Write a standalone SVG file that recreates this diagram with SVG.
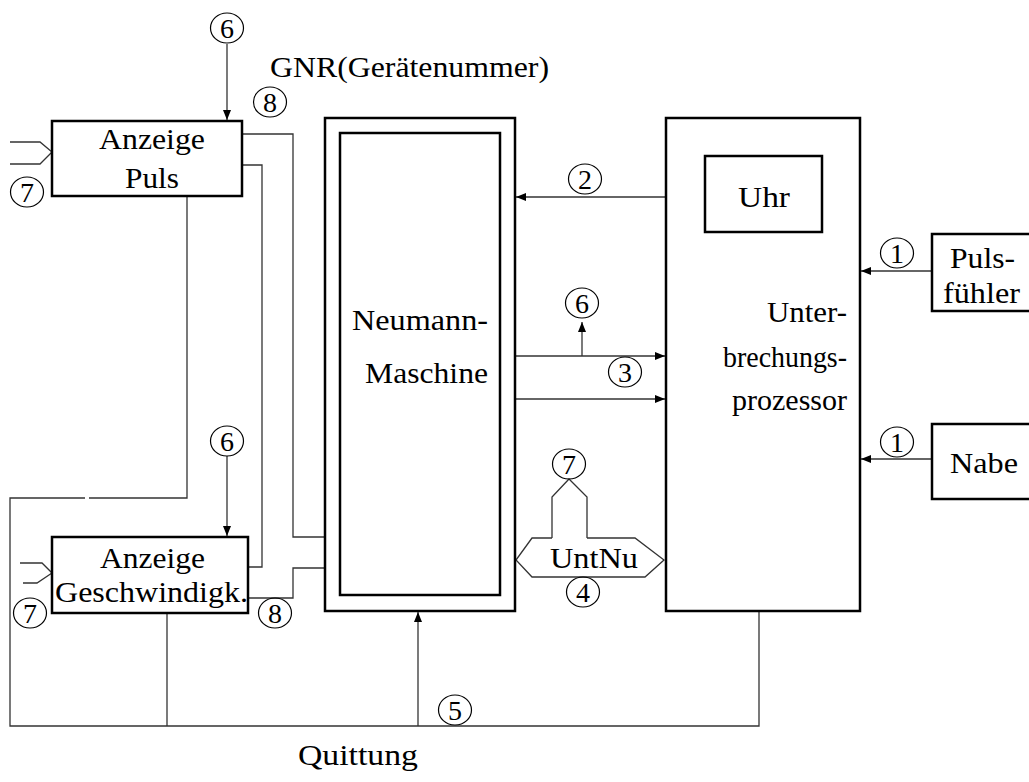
<svg xmlns="http://www.w3.org/2000/svg" width="1029" height="782" viewBox="0 0 1029 782">
<style>
  .box { fill: none; stroke: #000; stroke-width: 2.5; }
  .ln { fill: none; stroke: #333; stroke-width: 1.3; }
  text { font-family: 'Liberation Serif', 'Times New Roman', 'DejaVu Serif', serif; font-weight: normal; fill: #000; }
  .t { font-size: 29px; }
  .n { font-size: 28px; text-anchor: middle; }
  .c { fill: none; stroke: #000; stroke-width: 1.2; }
</style>
<defs>
  <marker id="ah" viewBox="0 0 10 8" refX="10" refY="4" markerWidth="10" markerHeight="8" markerUnits="userSpaceOnUse" orient="auto">
    <path d="M0,0 L10,4 L0,8 Z" fill="#000"/>
  </marker>
</defs>
<rect width="1029" height="782" fill="#fff"/>

<g id="connectors">
  <line class="ln" x1="227" y1="44" x2="227" y2="120" marker-end="url(#ah)"/>
  <line class="ln" x1="227" y1="456" x2="227" y2="536" marker-end="url(#ah)"/>
  <polyline class="ln" points="10,142 40,142 52,152 40,164 10,164"/>
  <polyline class="ln" points="20,563 42,563 52,573 37,583 23,583"/>
  <polyline class="ln" points="243,134 293,134 293,537 325,537"/>
  <polyline class="ln" points="243,165 262,165 262,567 249,567"/>
  <polyline class="ln" points="249,598 293,598 293,568 325,568"/>
  <polyline class="ln" points="187,197 187,498 89,498"/>
  <polyline class="ln" points="85,498 10,498 10,726 759,726 759,611"/>
  <line class="ln" x1="167" y1="613" x2="167" y2="726"/>
  <line class="ln" x1="418" y1="726" x2="418" y2="612" marker-end="url(#ah)"/>
  <line class="ln" x1="666" y1="197" x2="516" y2="197" marker-end="url(#ah)"/>
  <line class="ln" x1="515" y1="356" x2="665" y2="356" marker-end="url(#ah)"/>
  <line class="ln" x1="515" y1="399" x2="665" y2="399" marker-end="url(#ah)"/>
  <line class="ln" x1="582" y1="356" x2="582" y2="322" marker-end="url(#ah)"/>
  <line class="ln" x1="932" y1="271" x2="861" y2="271" marker-end="url(#ah)"/>
  <line class="ln" x1="932" y1="459" x2="861" y2="459" marker-end="url(#ah)"/>
  <polyline class="ln" points="552,538 532,538 516,560 532,577 645,577 664,560 635,538 587,538"/>
  <polyline class="ln" points="552,538 552,497 569,479 587,497 587,538"/>
</g>

<g id="anzeige-puls">
  <rect class="box" x="52" y="121" width="190" height="75"/>
  <text class="t" x="99" y="149" textLength="106" lengthAdjust="spacingAndGlyphs">Anzeige</text>
  <text class="t" x="125" y="188" textLength="54" lengthAdjust="spacingAndGlyphs">Puls</text>
</g>

<g id="anzeige-geschw">
  <rect class="box" x="52" y="537" width="196" height="76"/>
  <text class="t" x="100" y="568" textLength="105" lengthAdjust="spacingAndGlyphs">Anzeige</text>
  <text class="t" x="55" y="602" textLength="193" lengthAdjust="spacingAndGlyphs">Geschwindigk.</text>
</g>

<g id="neumann">
  <rect class="box" x="325" y="118" width="190" height="493"/>
  <rect class="box" x="340" y="133" width="160" height="462"/>
  <text class="t" x="352" y="330" textLength="136" lengthAdjust="spacingAndGlyphs">Neumann-</text>
  <text class="t" x="365" y="383" textLength="123" lengthAdjust="spacingAndGlyphs">Maschine</text>
</g>

<g id="unterbrechung">
  <rect class="box" x="666" y="118" width="194" height="493"/>
  <text class="t" x="767" y="322" textLength="80" lengthAdjust="spacingAndGlyphs">Unter-</text>
  <text class="t" x="723" y="367" textLength="124" lengthAdjust="spacingAndGlyphs">brechungs-</text>
  <text class="t" x="732" y="410" textLength="115" lengthAdjust="spacingAndGlyphs">prozessor</text>
</g>

<g id="uhr">
  <rect class="box" x="705" y="156" width="117" height="76"/>
  <text class="t" x="738" y="207" textLength="52" lengthAdjust="spacingAndGlyphs">Uhr</text>
</g>

<g id="pulsfuehler">
  <rect class="box" x="932" y="234" width="110" height="77"/>
  <text class="t" x="950" y="268" textLength="65" lengthAdjust="spacingAndGlyphs">Puls-</text>
  <text class="t" x="943" y="303" textLength="77" lengthAdjust="spacingAndGlyphs">fühler</text>
</g>

<g id="nabe">
  <rect class="box" x="932" y="424" width="110" height="75"/>
  <text class="t" x="950" y="473" textLength="68" lengthAdjust="spacingAndGlyphs">Nabe</text>
</g>

<g id="untnu">
  <text class="t" x="550" y="568" textLength="88" lengthAdjust="spacingAndGlyphs">UntNu</text>
</g>

<g id="labels">
  <text class="t" x="270" y="77" textLength="279" lengthAdjust="spacingAndGlyphs">GNR(Gerätenummer)</text>
  <text class="t" x="298" y="765" textLength="120" lengthAdjust="spacingAndGlyphs">Quittung</text>
</g>

<g id="circled-numbers">
  <ellipse class="c" cx="227" cy="28" rx="16.5" ry="15"/><text class="n" x="227" y="37.5">6</text>
  <ellipse class="c" cx="270" cy="102" rx="16.5" ry="15"/><text class="n" x="270" y="111.5">8</text>
  <ellipse class="c" cx="27" cy="192" rx="16.5" ry="15"/><text class="n" x="27" y="201.5">7</text>
  <ellipse class="c" cx="227" cy="441" rx="16.5" ry="15"/><text class="n" x="227" y="450.5">6</text>
  <ellipse class="c" cx="30" cy="613" rx="16.5" ry="15"/><text class="n" x="30" y="622.5">7</text>
  <ellipse class="c" cx="275" cy="613" rx="16.5" ry="15"/><text class="n" x="275" y="622.5">8</text>
  <ellipse class="c" cx="585" cy="179" rx="16.5" ry="15"/><text class="n" x="585" y="188.5">2</text>
  <ellipse class="c" cx="582" cy="303" rx="16.5" ry="15"/><text class="n" x="582" y="312.5">6</text>
  <ellipse class="c" cx="625" cy="372" rx="16.5" ry="15"/><text class="n" x="625" y="381.5">3</text>
  <ellipse class="c" cx="569" cy="464" rx="16.5" ry="15"/><text class="n" x="569" y="473.5">7</text>
  <ellipse class="c" cx="583" cy="592" rx="16.5" ry="15"/><text class="n" x="583" y="601.5">4</text>
  <ellipse class="c" cx="455" cy="710" rx="16.5" ry="15"/><text class="n" x="455" y="719.5">5</text>
  <ellipse class="c" cx="897" cy="253" rx="16.5" ry="15"/><text class="n" x="897" y="262.5">1</text>
  <ellipse class="c" cx="897" cy="442" rx="16.5" ry="15"/><text class="n" x="897" y="451.5">1</text>
</g>
</svg>
